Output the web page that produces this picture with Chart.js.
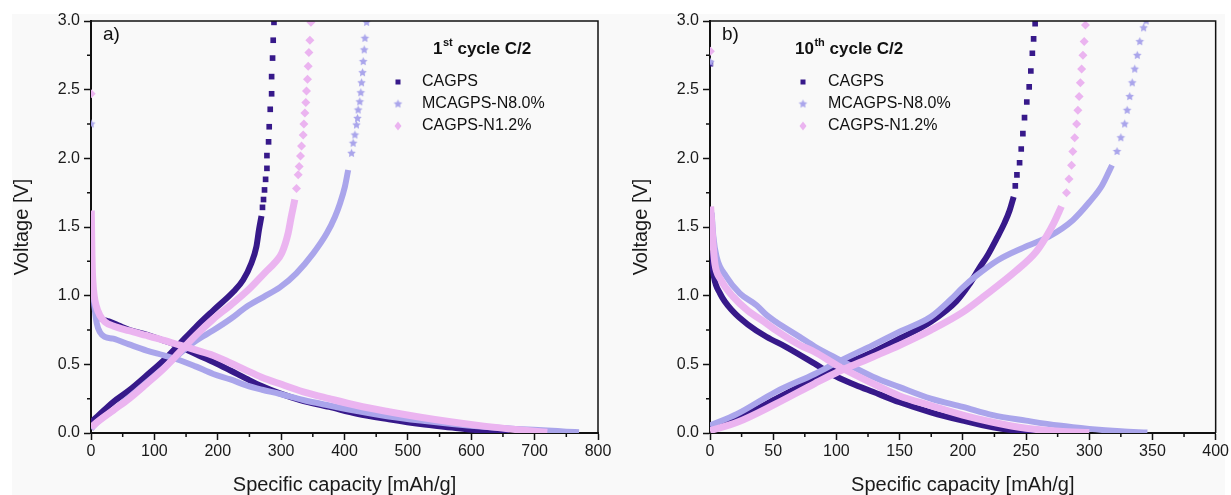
<!DOCTYPE html>
<html>
<head>
<meta charset="utf-8">
<script src="https://cdn.jsdelivr.net/npm/chart.js@4.4.1/dist/chart.umd.min.js"></script>
<style>
  html, body { margin:0; padding:0; background:#fff; }
  #wrap { position:relative; width:1231px; height:495px; overflow:hidden; }
  #bg { position:absolute; left:12px; top:14px; width:1213px; height:481px; background:#f9f9f9; }
  .box { position:absolute; top:0; width:615px; height:495px; }
</style>
</head>
<body>
<div id="wrap">
  <div id="bg"></div>
  <div class="box" style="left:0"><canvas id="c1" width="615" height="495"></canvas></div>
  <div class="box" style="left:616px"><canvas id="c2" width="615" height="495"></canvas></div>
</div>
<script>
// series names and colours
const seriesNames = ['CAGPS', 'MCAGPS-N8.0%', 'CAGPS-N1.2%'];
const DARK = '#37198a', LAV = '#aaa5eb', PINK = '#ebb4f0';

// ---- 1st cycle C/2 (panel a) : [capacity mAh/g, voltage V] ----
const c1_cagps_dis = [[0.5,1.48],[1,1.3],[1.5,1.15],[3,1.0],[5,0.93],[8,0.88],[14,0.84],[22,0.82],[30,0.81],[45,0.78],[61,0.75],[85,0.72],[114,0.675],[135,0.64],[150,0.607],[170,0.565],[193,0.517],[220,0.455],[245,0.396],[270,0.34],[297,0.29],[330,0.24],[376,0.19],[420,0.14],[470,0.1],[520,0.065],[570,0.04],[610,0.02],[640,0.008],[660,0.003]];
const c1_cagps_chg = [[0,0.08],[10,0.12],[35,0.226],[60,0.31],[88,0.42],[115,0.53],[140,0.65],[165,0.77],[193,0.893],[225,1.03],[240,1.114],[253,1.236],[261,1.357],[265,1.478],[269,1.58]];
const c1_cagps_pts = [[270.6,1.643],[272.2,1.7],[273.8,1.77],[275.5,1.847],[277.6,1.927],[277.6,2.02],[280.2,2.12],[281.2,2.23],[282.8,2.357],[285,2.47],[285,2.595],[286.5,2.73],[287.5,2.86],[288.7,2.99]];

const c1_mcagps_dis = [[0.5,1.3],[1,1.2],[2,1.1],[4,1.0],[6,0.9],[9,0.8],[14,0.735],[22,0.7],[35,0.687],[60,0.645],[88,0.6],[115,0.565],[140,0.53],[165,0.485],[193,0.43],[220,0.39],[245,0.347],[270,0.315],[297,0.286],[335,0.24],[376,0.2],[420,0.16],[470,0.12],[520,0.09],[570,0.065],[620,0.045],[670,0.03],[720,0.018],[750,0.01],[770,0.005]];
const c1_mcagps_chg = [[0,0.03],[10,0.08],[35,0.165],[60,0.26],[88,0.37],[115,0.475],[140,0.578],[165,0.67],[193,0.748],[220,0.83],[245,0.917],[272,0.99],[298,1.06],[324,1.163],[351,1.31],[372,1.454],[385,1.575],[393,1.673],[400.6,1.793],[405.8,1.915]];
const c1_mcagps_pts = [[0.3,2.25],[411.1,2.037],[413.7,2.11],[416.4,2.17],[418.9,2.243],[420.5,2.291],[421.5,2.352],[424.1,2.412],[425.7,2.478],[426.9,2.55],[428.5,2.624],[429.5,2.705],[431.1,2.79],[432.2,2.874],[434.9,2.99]];

const c1_n12_dis = [[0.5,1.62],[1,1.45],[1.5,1.3],[2,1.2],[3,1.1],[5,1.0],[8,0.93],[14,0.857],[22,0.81],[35,0.78],[60,0.745],[88,0.71],[115,0.675],[140,0.64],[165,0.605],[193,0.565],[220,0.51],[245,0.456],[270,0.405],[297,0.36],[335,0.3],[376,0.25],[420,0.2],[470,0.155],[520,0.115],[570,0.08],[620,0.05],[670,0.025],[700,0.012],[720,0.005]];
const c1_n12_chg = [[0,0.04],[10,0.08],[35,0.165],[60,0.25],[88,0.36],[115,0.47],[140,0.59],[165,0.71],[193,0.83],[220,0.93],[250,1.05],[275,1.17],[290,1.24],[301,1.31],[311,1.454],[316,1.575],[321.6,1.7]];
const c1_n12_pts = [[0.3,2.47],[324.3,1.78],[326.9,1.88],[328.5,1.94],[330.6,2.017],[332.2,2.09],[334.8,2.17],[335.9,2.25],[337.5,2.33],[339,2.406],[340,2.49],[341.6,2.575],[342.7,2.67],[343.8,2.77],[345.4,2.86],[347,2.99]];

// ---- 10th cycle C/2 (panel b) ----
const c10_cagps_dis = [[0.8,1.32],[3.1,1.138],[7.9,1.017],[18.3,0.884],[30,0.79],[44.6,0.701],[60,0.628],[82.8,0.505],[100,0.41],[115,0.35],[128.8,0.3],[150,0.224],[174.7,0.151],[200,0.09],[223.8,0.041],[250,0.01],[262,0.003]];
const c10_cagps_chg = [[0,0.03],[21.5,0.102],[52,0.249],[82.8,0.395],[101,0.48],[128.8,0.59],[150,0.688],[174.7,0.81],[195,0.96],[205,1.08],[213,1.2],[220,1.3],[227,1.42],[233,1.53],[237,1.62],[240.2,1.72]];
const c10_cagps_pts = [[0.3,2.69],[241.5,1.8],[242.8,1.879],[244.9,1.968],[246.2,2.068],[247.5,2.18],[248.8,2.296],[250.6,2.41],[252.5,2.52],[253.8,2.636],[255,2.765],[256,2.87],[257.2,2.98]];

const c10_mcagps_dis = [[1.3,1.604],[2.6,1.434],[5.2,1.284],[13,1.138],[23.6,1.017],[36.8,0.93],[44.6,0.86],[52,0.81],[70.9,0.7],[82.8,0.63],[101,0.54],[128.8,0.41],[150,0.334],[174.7,0.25],[200,0.19],[223.8,0.13],[250,0.09],[276,0.054],[300,0.03],[325,0.012],[346,0.003]];
const c10_mcagps_chg = [[0,0.054],[21.5,0.139],[52,0.3],[82.8,0.43],[101,0.517],[128.8,0.64],[150,0.737],[174.7,0.846],[190,0.968],[200,1.06],[210,1.14],[228,1.26],[248,1.35],[268,1.43],[287,1.55],[300,1.68],[310,1.8],[318,1.95]];
const c10_mcagps_pts = [[0.3,2.7],[322,2.05],[325,2.15],[328,2.25],[330,2.35],[332,2.45],[334,2.55],[336,2.65],[338,2.75],[340,2.85],[343,2.95],[345,3.0]];

const c10_n12_dis = [[0.5,1.65],[2.6,1.357],[3.9,1.23],[7.9,1.126],[18.3,0.993],[30,0.89],[44.6,0.799],[52,0.749],[70.9,0.641],[82.8,0.59],[101,0.49],[128.8,0.36],[150,0.27],[174.7,0.2],[200,0.13],[223.8,0.078],[250,0.034],[276,0.012],[300,0.003]];
const c10_n12_chg = [[0,0.017],[21.5,0.078],[52,0.212],[82.8,0.36],[101,0.444],[128.8,0.554],[150,0.639],[174.7,0.749],[200,0.88],[216,0.99],[242,1.18],[258,1.32],[266,1.43],[272,1.53],[278,1.65]];
const c10_n12_pts = [[0.3,2.78],[282,1.75],[284,1.85],[286,1.95],[287,2.05],[288.5,2.15],[290,2.25],[291,2.35],[292,2.45],[293,2.55],[294,2.65],[295,2.75],[296,2.85],[297,2.97]];

const FONT = "'Liberation Sans', Arial, sans-serif";

function starImage(color, r) {
  const c = document.createElement('canvas');
  const s = Math.ceil(r * 2) + 2;
  c.width = s; c.height = s;
  const g = c.getContext('2d');
  g.fillStyle = color;
  g.beginPath();
  for (let i = 0; i < 10; i++) {
    const a = -Math.PI / 2 + i * Math.PI / 5;
    const rr = i % 2 ? r * 0.5 : r;
    g.lineTo(s / 2 + rr * Math.cos(a), s / 2 + rr * Math.sin(a));
  }
  g.closePath();
  g.fill();
  return c;
}
const starPt = starImage(LAV, 4.5);

function lineDs(data, color, w, order) {
  return { data, showLine: true, borderColor: color, borderWidth: w, pointRadius: 0,
           cubicInterpolationMode: 'monotone', fill: false, order };
}
function ptDs(data, color, style, r, order) {
  return { data, showLine: false, pointStyle: style, pointRadius: r, backgroundColor: color,
           borderColor: color, borderWidth: 0, order };
}

function isMajor(v, step) {
  return Math.abs(v / step - Math.round(v / step)) < 1e-6;
}

// top/right frame, minor ticks, in-plot legend and panel letter
const extras = {
  id: 'extras',
  afterDraw(chart, args, o) {
    const ctx = chart.ctx, a = chart.chartArea;
    const xs = chart.scales.x, ys = chart.scales.y;
    ctx.save();
    ctx.strokeStyle = '#111';
    ctx.lineWidth = 1.5;
    ctx.beginPath();
    ctx.moveTo(a.left, a.top); ctx.lineTo(a.right, a.top); ctx.lineTo(a.right, a.bottom);
    ctx.stroke();
    // minor ticks
    ctx.beginPath();
    for (let v = 0; v <= xs.max + 1e-9; v += o.xMinor) {
      if (isMajor(v, o.xMajor)) continue;
      const p = xs.getPixelForValue(v);
      ctx.moveTo(p, a.bottom); ctx.lineTo(p, a.bottom + 4);
    }
    for (let v = 0; v <= ys.max + 1e-9; v += 0.25) {
      if (isMajor(v, 0.5)) continue;
      const p = ys.getPixelForValue(v);
      ctx.moveTo(a.left, p); ctx.lineTo(a.left - 4, p);
    }
    ctx.stroke();

    // panel letter
    ctx.fillStyle = '#111';
    ctx.textBaseline = 'middle';
    ctx.textAlign = 'left';
    ctx.font = '19px ' + FONT;
    ctx.fillText(o.letter, a.left + 12, a.top + 14);

    // legend title with superscript
    let x = a.left + o.tx;
    const ty = a.top + 28;
    ctx.font = 'bold 17px ' + FONT;
    ctx.fillText(o.title[0], x, ty); x += ctx.measureText(o.title[0]).width;
    ctx.font = 'bold 11px ' + FONT;
    ctx.fillText(o.title[1], x + 0.5, ty - 6); x += ctx.measureText(o.title[1]).width + 0.5;
    ctx.font = 'bold 17px ' + FONT;
    ctx.fillText(o.title[2], x, ty);

    // legend entries
    ctx.font = '16px ' + FONT;
    seriesNames.forEach((name, i) => {
      const y = a.top + 61 + i * 22;
      const mx = a.left + o.mx;
      if (i === 0) {
        ctx.fillStyle = DARK;
        ctx.fillRect(mx - 2.5, y - 2.5, 5, 5);
      } else if (i === 1) {
        ctx.drawImage(starPt, mx - starPt.width / 2, y - starPt.height / 2);
      } else {
        ctx.fillStyle = PINK;
        ctx.beginPath();
        ctx.moveTo(mx, y - 4.5); ctx.lineTo(mx + 3.5, y); ctx.lineTo(mx, y + 4.5); ctx.lineTo(mx - 3.5, y);
        ctx.closePath(); ctx.fill();
      }
      ctx.fillStyle = '#111';
      ctx.fillText(name, a.left + o.lx, y);
    });
    ctx.restore();
  }
};

function makeChart(id, d, xMax, xMajor, xMinor, yWidth, yTitlePad, padRight, legend) {
  const tickFont = { family: FONT, size: 16 };
  return new Chart(document.getElementById(id), {
    type: 'scatter',
    data: {
      datasets: [
        lineDs(d.n12dis, PINK, 7, 1), lineDs(d.n12chg, PINK, 7, 1), ptDs(d.n12pts, PINK, 'rectRot', 4.5, 1),
        lineDs(d.mdis, LAV, 6, 2), lineDs(d.mchg, LAV, 6, 2), ptDs(d.mpts, LAV, starPt, 4, 2),
        lineDs(d.cdis, DARK, 6, 3), lineDs(d.cchg, DARK, 6, 3), ptDs(d.cpts, DARK, 'rect', 4, 3)
      ]
    },
    options: {
      responsive: false,
      animation: false,
      devicePixelRatio: 1,
      layout: { padding: { top: 21, right: padRight, left: 0, bottom: 0 } },
      plugins: { legend: { display: false }, tooltip: { enabled: false }, extras: legend },
      scales: {
        x: {
          type: 'linear', min: 0, max: xMax,
          afterFit: s => { s.height = 62; },
          border: { color: '#111', width: 2 },
          grid: { drawOnChartArea: false, drawTicks: true, tickLength: 7, tickWidth: 1.5,
                  tickColor: c => isMajor(c.tick.value, xMajor) ? '#111' : 'rgba(0,0,0,0)' },
          ticks: { stepSize: xMinor, autoSkip: false, maxRotation: 0, padding: 2, color: '#1a1a1a', font: tickFont,
                   callback: v => isMajor(v, xMajor) ? String(v) : '' },
          title: { display: true, text: 'Specific capacity [mAh/g]', color: '#1a1a1a',
                   font: { family: FONT, size: 20, lineHeight: 1 }, padding: { top: 0, bottom: 0 } }
        },
        y: {
          type: 'linear', min: 0, max: 3,
          afterFit: s => { s.width = yWidth; },
          border: { color: '#111', width: 2 },
          grid: { drawOnChartArea: false, drawTicks: true, tickLength: 7, tickWidth: 1.5,
                  tickColor: c => isMajor(c.tick.value, 0.5) ? '#111' : 'rgba(0,0,0,0)' },
          ticks: { stepSize: 0.25, autoSkip: false, padding: 4, color: '#1a1a1a', font: tickFont,
                   callback: v => isMajor(v, 0.5) ? v.toFixed(1) : '' },
          title: { display: true, text: 'Voltage [V]', color: '#1a1a1a',
                   font: { family: FONT, size: 20, lineHeight: 1 }, padding: { top: yTitlePad, bottom: 0 } }
        }
      }
    },
    plugins: [extras]
  });
}

makeChart('c1', {
  cdis: c1_cagps_dis, cchg: c1_cagps_chg, cpts: c1_cagps_pts,
  mdis: c1_mcagps_dis, mchg: c1_mcagps_chg, mpts: c1_mcagps_pts,
  n12dis: c1_n12_dis, n12chg: c1_n12_chg, n12pts: c1_n12_pts
}, 800, 100, 50, 91, 12, 17,
  { letter: 'a)', title: ['1', 'st', ' cycle C/2'], tx: 342, mx: 307, lx: 331, xMajor: 100, xMinor: 50 });

makeChart('c2', {
  cdis: c10_cagps_dis, cchg: c10_cagps_chg, cpts: c10_cagps_pts,
  mdis: c10_mcagps_dis, mchg: c10_mcagps_chg, mpts: c10_mcagps_pts,
  n12dis: c10_n12_dis, n12chg: c10_n12_chg, n12pts: c10_n12_pts
}, 400, 50, 25, 94, 15, 13,
  { letter: 'b)', title: ['10', 'th', ' cycle C/2'], tx: 85, mx: 93, lx: 118, xMajor: 50, xMinor: 25 });
</script>
</body>
</html>
